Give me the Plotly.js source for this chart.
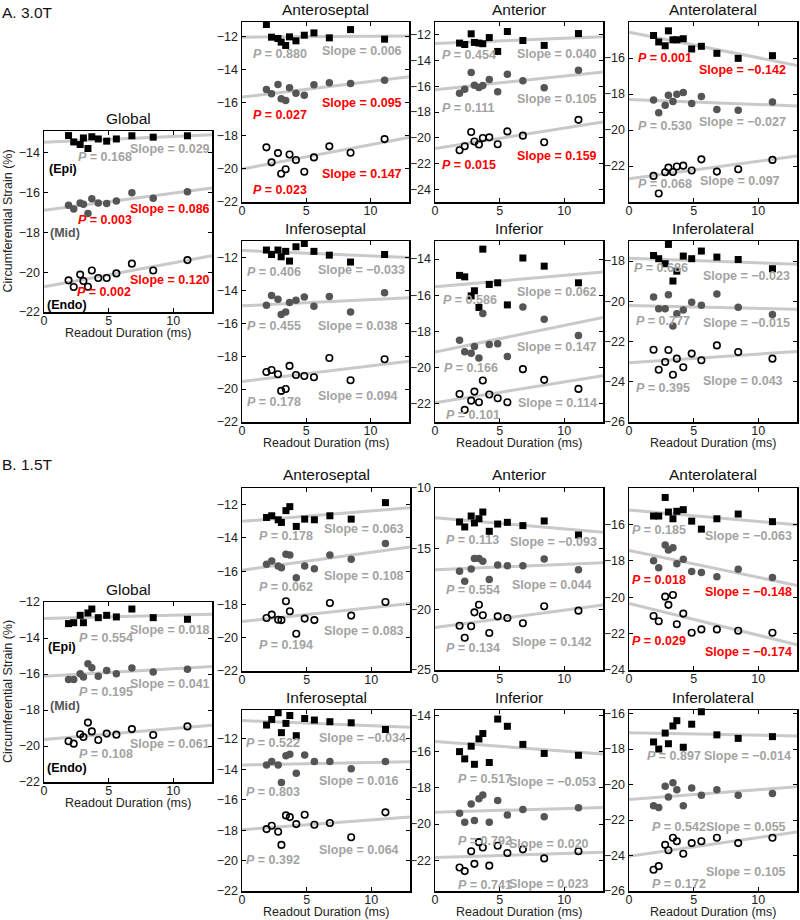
<!DOCTYPE html>
<html><head><meta charset="utf-8">
<script src="https://cdn.plot.ly/plotly-3.0.1.min.js"></script>
<style>html,body{margin:0;padding:0;background:#fff}#chart{width:800px;height:920px}</style>
</head><body><div id="chart"></div>
<script>
// ---------------- DATA ----------------
const readoutMs = [1.9, 2.3, 2.8, 3.05, 3.4, 3.7, 4.2, 4.85, 5.6, 6.8, 8.45, 11.1];
const layerNames = ['(Epi)', '(Mid)', '(Endo)'];
const panelTitles = ['Global', 'Anteroseptal', 'Anterior', 'Anterolateral', 'Inferoseptal', 'Inferior', 'Inferolateral'];
const sectionTitles = ['A. 3.0T', 'B. 1.5T'];
const xTicks = [0, 5, 10];

// A. 3.0T
const a_global_epi  = [-13.13,-13.45,-13.58,-13.25,-13.78,-13.19,-13.30,-13.41,-13.30,-13.14,-13.21,-13.14];
const a_global_mid  = [-16.63,-16.82,-16.52,-16.58,-17.05,-16.30,-16.52,-16.55,-16.42,-16.01,-16.28,-15.95];
const a_global_endo = [-20.41,-20.74,-20.12,-20.44,-20.73,-19.91,-20.29,-20.29,-20.06,-19.57,-19.91,-19.39];
const a_global_slope = [0.029, 0.086, 0.120];
const a_global_p = ['0.168', '0.003', '0.002'];

const a_antsep_epi  = [-11.25,-12.02,-12.10,-12.32,-12.52,-12.00,-12.24,-11.90,-11.76,-12.06,-11.56,-12.14];
const a_antsep_mid  = [-15.19,-15.45,-14.88,-15.75,-15.85,-15.08,-15.41,-15.53,-14.90,-14.78,-14.82,-14.62];
const a_antsep_endo = [-18.69,-19.60,-19.04,-20.29,-20.02,-19.12,-19.46,-20.17,-19.30,-18.63,-19.02,-18.19];
const a_antsep_slope = [0.006, 0.095, 0.147];
const a_antsep_p = ['0.880', '0.027', '0.023'];

const a_ant_epi  = [-12.64,-12.75,-11.92,-12.59,-12.64,-12.69,-12.21,-13.29,-11.74,-12.44,-12.82,-11.90];
const a_ant_mid  = [-16.55,-16.24,-14.93,-15.91,-16.09,-15.93,-15.47,-16.42,-15.06,-15.57,-16.11,-14.75];
const a_ant_endo = [-20.97,-20.66,-19.56,-20.30,-20.53,-20.02,-19.97,-20.51,-19.51,-19.84,-20.35,-18.61];
const a_ant_slope = [0.040, 0.105, 0.159];
const a_ant_p = ['0.454', '0.111', '0.015'];

const a_antlat_epi  = [-14.75,-15.11,-15.32,-14.49,-14.99,-14.99,-14.93,-15.50,-15.35,-15.74,-16.02,-15.87];
const a_antlat_mid  = [-18.34,-19.04,-18.62,-18.07,-18.42,-18.01,-17.92,-18.53,-18.14,-18.86,-18.90,-18.45];
const a_antlat_endo = [-22.55,-23.53,-22.35,-22.09,-22.33,-22.03,-21.98,-22.25,-21.63,-22.31,-22.18,-21.66];
const a_antlat_slope = [-0.142, -0.027, 0.097];
const a_antlat_p = ['0.001', '0.530', '0.068'];

const a_infsep_epi  = [-11.55,-11.82,-11.55,-11.96,-11.63,-12.22,-11.35,-11.15,-11.63,-11.86,-12.28,-11.82];
const a_infsep_mid  = [-14.90,-14.31,-14.54,-15.47,-15.31,-14.74,-14.60,-14.41,-14.96,-14.37,-15.31,-14.15];
const a_infsep_endo = [-18.96,-18.84,-19.10,-20.11,-19.99,-18.59,-19.14,-19.20,-19.28,-18.11,-19.46,-18.19];
const a_infsep_slope = [-0.033, 0.038, 0.094];
const a_infsep_p = ['0.406', '0.455', '0.178'];

const a_inf_epi  = [-14.90,-14.98,-16.03,-15.75,-16.67,-13.45,-15.40,-15.31,-16.53,-13.94,-14.39,-15.31];
const a_inf_mid  = [-18.48,-19.12,-19.20,-18.83,-19.47,-17.00,-18.72,-18.68,-19.38,-16.65,-17.32,-18.22];
const a_inf_endo = [-21.45,-22.33,-21.82,-21.32,-21.91,-20.71,-21.48,-21.69,-21.91,-20.08,-20.67,-21.17];
const a_inf_slope = [0.062, 0.147, 0.114];
const a_inf_p = ['0.586', '0.166', '0.101'];

const a_inflat_epi  = [-17.72,-17.88,-18.13,-17.17,-18.99,-18.50,-17.75,-17.88,-17.50,-17.80,-17.92,-18.38];
const a_inflat_mid  = [-19.79,-20.37,-20.37,-19.67,-21.23,-20.62,-20.43,-20.04,-20.20,-19.64,-20.30,-20.65];
const a_inflat_endo = [-22.41,-23.40,-23.02,-22.42,-23.65,-22.85,-23.28,-22.60,-22.93,-22.19,-22.52,-22.85];
const a_inflat_slope = [-0.023, -0.015, 0.043];
const a_inflat_p = ['0.686', '0.777', '0.395'];

// B. 1.5T
const b_global_epi  = [-13.20,-13.15,-12.74,-13.15,-12.61,-12.39,-12.87,-12.74,-12.83,-12.39,-12.87,-12.96];
const b_global_mid  = [-16.30,-16.31,-15.98,-16.17,-15.43,-15.65,-16.13,-15.80,-15.98,-15.67,-15.89,-15.74];
const b_global_endo = [-19.74,-19.87,-19.35,-19.50,-18.70,-19.19,-19.67,-19.31,-19.37,-19.06,-19.39,-18.91];
const b_global_slope = [0.018, 0.041, 0.061];
const b_global_p = ['0.554', '0.195', '0.108'];

const b_antsep_epi  = [-12.77,-12.67,-12.91,-13.07,-12.36,-12.12,-13.31,-12.87,-12.91,-12.67,-12.87,-11.88];
const b_antsep_mid  = [-15.59,-15.39,-15.69,-15.79,-14.98,-15.02,-16.40,-15.69,-15.85,-15.02,-15.29,-14.34];
const b_antsep_endo = [-18.81,-18.61,-18.92,-18.94,-17.81,-18.41,-19.76,-18.85,-18.94,-17.91,-18.67,-17.85];
const b_antsep_slope = [0.063, 0.108, 0.083];
const b_antsep_p = ['0.178', '0.062', '0.194'];

const b_ant_epi  = [-12.80,-13.21,-12.31,-12.88,-12.53,-11.98,-13.57,-12.97,-12.83,-13.10,-12.72,-13.87];
const b_ant_mid  = [-16.87,-17.69,-16.68,-15.82,-15.82,-16.04,-17.55,-16.35,-16.40,-16.40,-15.85,-16.73];
const b_ant_endo = [-21.35,-22.34,-21.40,-20.25,-19.62,-20.49,-21.95,-20.58,-20.71,-21.15,-19.75,-20.11];
const b_ant_slope = [-0.093, 0.044, 0.142];
const b_ant_p = ['0.113', '0.554', '0.134'];

const b_antlat_epi  = [-15.54,-15.54,-14.52,-15.32,-15.69,-15.28,-15.19,-15.82,-16.26,-15.69,-15.43,-15.85];
const b_antlat_mid  = [-18.00,-18.38,-17.13,-17.40,-17.28,-18.16,-17.92,-18.59,-18.64,-18.88,-18.46,-18.92];
const b_antlat_endo = [-21.03,-21.32,-19.97,-20.42,-19.88,-21.49,-20.90,-21.95,-21.77,-21.77,-21.84,-21.95];
const b_antlat_slope = [-0.063, -0.148, -0.174];
const b_antlat_p = ['0.185', '0.018', '0.029'];

const b_infsep_epi  = [-11.09,-10.72,-10.28,-11.59,-10.98,-10.46,-11.79,-10.66,-10.76,-10.87,-10.94,-11.38];
const b_infsep_mid  = [-13.71,-13.49,-13.71,-14.87,-13.10,-13.01,-14.26,-13.06,-13.49,-13.49,-13.97,-13.49];
const b_infsep_endo = [-17.93,-17.71,-18.10,-18.97,-17.03,-17.14,-17.60,-16.99,-17.64,-17.53,-18.47,-16.83];
const b_infsep_slope = [-0.034, 0.016, 0.064];
const b_infsep_p = ['0.522', '0.803', '0.392'];

const b_inf_epi  = [-16.0,-16.4,-15.7,-16.7,-15.3,-15.0,-16.6,-14.2,-14.6,-15.6,-16.1,-16.2];
const b_inf_mid  = [-19.4,-19.9,-18.9,-19.8,-18.6,-18.4,-19.9,-18.7,-19.5,-19.2,-19.6,-19.1];
const b_inf_endo = [-22.4,-22.6,-21.5,-22.2,-21.0,-21.3,-22.3,-21.2,-21.6,-21.4,-21.9,-21.5];
const b_inf_slope = [-0.053, 0.020, 0.023];
const b_inf_p = ['0.517', '0.792', '0.741'];

const b_inflat_epi  = [-17.6,-18.0,-17.1,-17.7,-16.7,-16.4,-17.9,-16.6,-15.9,-17.2,-17.4,-17.3];
const b_inflat_mid  = [-21.2,-21.3,-20.1,-20.7,-19.9,-20.3,-21.2,-20.2,-20.6,-20.3,-20.6,-20.5];
const b_inflat_endo = [-24.8,-24.6,-23.4,-23.7,-23.0,-23.2,-23.9,-23.3,-23.2,-23.0,-23.3,-23.0];
const b_inflat_slope = [-0.014, 0.055, 0.105];
const b_inflat_p = ['0.897', '0.542', '0.172'];

// ---------------- LAYOUT / PANELS ----------------
const W = 800, H = 920;
const FONT = 'Liberation Sans, Arial, sans-serif';
const px = v => v / W, py = v => 1 - v / H;

const panels = [
  {t:0, box:[44,212,131,312], yr:[-22,-12.9], yt:[-22,-20,-18,-16,-14], d:[a_global_epi,a_global_mid,a_global_endo], s:a_global_slope, p:a_global_p,
   pPos:[[2.57,-14.2],[2.57,-17.39],[2.47,-20.98]], sPos:[[12.9,-13.82],[12.9,-16.8],[12.9,-20.38]], layers:[[0.3,-14.82],[0.42,-18.03],[0.18,-21.64]]},
  {t:1, box:[242,409,22,202], yr:[-22,-11.1], yt:[-22,-20,-18,-16,-14,-12], d:[a_antsep_epi,a_antsep_mid,a_antsep_endo], s:a_antsep_slope, p:a_antsep_p,
   pPos:[[0.78,-13.03],[0.78,-16.76],[0.78,-21.27]], sPos:[[12.5,-12.87],[12.5,-15.99],[12.5,-20.29]]},
  {t:2, box:[435,603,22,202], yr:[-25,-11], yt:[-24,-22,-20,-18,-16,-14,-12], d:[a_ant_epi,a_ant_mid,a_ant_endo], s:a_ant_slope, p:a_ant_p,
   pPos:[[0.44,-13.54],[0.44,-17.66],[0.44,-22.13]], sPos:[[12.6,-13.47],[12.6,-16.99],[12.6,-21.43]]},
  {t:3, box:[629,797,22,202], yr:[-24,-14], yt:[-22,-20,-18,-16], d:[a_antlat_epi,a_antlat_mid,a_antlat_endo], s:a_antlat_slope, p:a_antlat_p,
   pPos:[[0.59,-16.0],[0.59,-19.78],[0.59,-23.01]], sPos:[[12.26,-16.68],[12.26,-19.56],[11.74,-22.86]]},
  {t:4, box:[242,409,241,422], yr:[-22,-11], yt:[-22,-20,-18,-16,-14,-12], d:[a_infsep_epi,a_infsep_mid,a_infsep_endo], s:a_infsep_slope, p:a_infsep_p,
   pPos:[[0.31,-12.91],[0.31,-16.18],[0.31,-20.78]], sPos:[[12.79,-12.77],[12.2,-16.18],[12.2,-20.44]], xlab:true},
  {t:5, box:[435,603,241,422], yr:[-23,-13], yt:[-22,-20,-18,-16,-14], d:[a_inf_epi,a_inf_mid,a_inf_endo], s:a_inf_slope, p:a_inf_p,
   pPos:[[0.51,-16.25],[0.64,-20.03],[0.77,-22.61]], sPos:[[12.6,-15.84],[12.6,-18.87],[12.6,-21.96]], xlab:true},
  {t:6, box:[629,797,241,422], yr:[-26,-17], yt:[-26,-24,-22,-20,-18], d:[a_inflat_epi,a_inflat_mid,a_inflat_endo], s:a_inflat_slope, p:a_inflat_p,
   pPos:[[0.31,-18.35],[0.49,-20.96],[0.49,-24.31]], sPos:[[12.54,-18.75],[12.54,-21.08],[11.97,-23.96]], xlab:true},

  {t:0, box:[44,212,602,782], yr:[-22,-12], yt:[-22,-20,-18,-16,-14,-12], d:[b_global_epi,b_global_mid,b_global_endo], s:b_global_slope, p:b_global_p,
   pPos:[[2.65,-13.98],[2.65,-17.02],[2.65,-20.43]], sPos:[[12.9,-13.54],[12.9,-16.54],[12.9,-19.91]], layers:[[0.26,-14.5],[0.39,-17.76],[0.15,-21.22]]},
  {t:1, box:[242,410,488,671], yr:[-22,-11], yt:[-22,-20,-18,-16,-14,-12], d:[b_antsep_epi,b_antsep_mid,b_antsep_endo], s:b_antsep_slope, p:b_antsep_p,
   pPos:[[1.21,-13.88],[1.21,-16.94],[1.21,-20.43]], sPos:[[12.58,-13.47],[12.58,-16.29],[12.58,-19.62]]},
  {t:2, box:[435,603,488,670], yr:[-25,-10], yt:[-25,-20,-15,-10], d:[b_ant_epi,b_ant_mid,b_ant_endo], s:b_ant_slope, p:b_ant_p,
   pPos:[[0.77,-14.31],[0.77,-18.41],[0.77,-23.19]], sPos:[[12.6,-14.48],[12.2,-17.97],[12.2,-22.69]]},
  {t:3, box:[629,797,488,670], yr:[-24,-14], yt:[-24,-22,-20,-18,-16], d:[b_antlat_epi,b_antlat_mid,b_antlat_endo], s:b_antlat_slope, p:b_antlat_p,
   pPos:[[0.18,-16.30],[0.18,-19.03],[0.18,-22.43]], sPos:[[12.67,-16.61],[12.67,-19.70],[12.67,-22.99]]},
  {t:4, box:[242,410,710,891], yr:[-22,-10.1], yt:[-22,-20,-18,-16,-14,-12], d:[b_infsep_epi,b_infsep_mid,b_infsep_endo], s:b_infsep_slope, p:b_infsep_p,
   pPos:[[0.26,-12.25],[0.26,-15.46],[0.26,-19.98]], sPos:[[12.79,-11.97],[12.2,-14.80],[12.2,-19.32]], xlab:true},
  {t:5, box:[435,603,710,891], yr:[-23.7,-13.7], yt:[-22,-20,-18,-16,-14], d:[b_inf_epi,b_inf_mid,b_inf_endo], s:b_inf_slope, p:b_inf_p,
   pPos:[[1.7,-17.53],[1.7,-20.91],[1.7,-23.35]], sPos:[[12.5,-17.69],[12.0,-21.13],[12.0,-23.3]], xlab:true},
  {t:6, box:[629,797,710,891], yr:[-26,-15.8], yt:[-26,-24,-22,-20,-18,-16], d:[b_inflat_epi,b_inflat_mid,b_inflat_endo], s:b_inflat_slope, p:b_inflat_p,
   pPos:[[1.35,-18.42],[1.7,-22.38],[1.7,-25.6]], sPos:[[12.6,-18.42],[12.2,-22.42],[12.2,-24.95]], xlab:true}
];

const markerStyles = [
  {symbol:'square', size:7, color:'#000000'},
  {symbol:'circle', size:7.5, color:'#555555'},
  {symbol:'circle-open', size:6.5, color:'#000000', line:{width:1.6, color:'#000000'}}
];
const labelColors = ['#000000', '#555555', '#000000'];
const GREY = '#a3a3a3', RED = '#ff0000';

const fmtSlope = v => (v < 0 ? '\u2212' : '') + Math.abs(v).toFixed(3);
const mean = a => a.reduce((s, v) => s + v, 0) / a.length;

const traces = [];
const annotations = [];
const layout = {
  width: W, height: H, margin: {l:0, r:0, t:0, b:0},
  paper_bgcolor: '#ffffff', plot_bgcolor: '#ffffff',
  showlegend: false, font: {family: FONT, size: 12.5, color: '#222222'}
};

panels.forEach((pn, i) => {
  const n = i + 1;
  const xa = 'x' + n, ya = 'y' + n;
  const [l, r, t, b] = pn.box;
  const axCommon = {
    showline: true, linecolor: '#000000', linewidth: 1.5, mirror: 'ticks',
    ticks: 'inside', ticklen: 4, tickwidth: 1, tickcolor: '#000000',
    showgrid: false, zeroline: false, fixedrange: true,
    tickfont: {family: FONT, size: 12.5, color: '#222222'}
  };
  layout['xaxis' + n] = Object.assign({}, axCommon, {
    domain: [px(l), px(r)], anchor: ya, range: [0, 13], tickmode: 'array', tickvals: xTicks, ticklabelstandoff: -4
  });
  layout['yaxis' + n] = Object.assign({}, axCommon, {
    domain: [py(b), py(t)], anchor: xa, range: pn.yr, tickmode: 'array', tickvals: pn.yt
  });

  const mx = mean(readoutMs);
  pn.d.forEach((ys, k) => {
    const m = pn.s[k];
    const b0 = mean(ys) - m * mx;
    traces.push({x: [0, 13], y: [b0, b0 + 13 * m], xaxis: xa, yaxis: ya, mode: 'lines',
      line: {color: '#c9c9c9', width: 3}, hoverinfo: 'skip'});
  });
  pn.d.forEach((ys, k) => {
    traces.push({x: readoutMs, y: ys, xaxis: xa, yaxis: ya, mode: 'markers',
      marker: markerStyles[k], cliponaxis: false, hoverinfo: 'skip'});
  });

  annotations.push({xref: 'paper', yref: 'paper', x: px((l + r) / 2), y: py(t - 13),
    xanchor: 'center', yanchor: 'middle', showarrow: false, text: panelTitles[pn.t],
    font: {family: FONT, size: 15.5, color: '#111111'}});

  pn.p.forEach((pv, k) => {
    const col = parseFloat(pv) < 0.05 ? RED : GREY;
    annotations.push({xref: xa, yref: ya, x: pn.pPos[k][0], y: pn.pPos[k][1], xanchor: 'left', yanchor: 'middle',
      showarrow: false, text: '<b><i>P</i> = ' + pv + '</b>', font: {family: FONT, size: 12.5, color: col}, borderpad: 0});
    annotations.push({xref: xa, yref: ya, x: pn.sPos[k][0], y: pn.sPos[k][1], xanchor: 'right', yanchor: 'middle',
      showarrow: false, text: '<b>Slope = ' + fmtSlope(pn.s[k]) + '</b>', font: {family: FONT, size: 12.5, color: col}, borderpad: 0});
  });

  if (pn.layers) {
    pn.layers.forEach((pos, k) => {
      annotations.push({xref: xa, yref: ya, x: pos[0], y: pos[1], xanchor: 'left', yanchor: 'middle',
        showarrow: false, text: '<b>' + layerNames[k] + '</b>', font: {family: FONT, size: 12.5, color: labelColors[k]}, borderpad: 0});
    });
    annotations.push({xref: 'paper', yref: 'paper', x: px(8), y: py((t + b) / 2), xanchor: 'center', yanchor: 'middle',
      textangle: -90, showarrow: false, text: 'Circumferential Strain (%)', font: {family: FONT, size: 12.5, color: '#222222'}});
  }
  if (pn.layers || pn.xlab) {
    annotations.push({xref: 'paper', yref: 'paper', x: px((l + r) / 2), y: py(Math.min(b + 20.5, 912.5)), xanchor: 'center', yanchor: 'middle',
      showarrow: false, text: 'Readout Duration (ms)', font: {family: FONT, size: 12.5, color: '#222222'}, borderpad: 0});
  }
});

annotations.push({xref: 'paper', yref: 'paper', x: 0, y: py(12), xanchor: 'left', yanchor: 'middle', showarrow: false,
  text: sectionTitles[0], font: {family: FONT, size: 15.5, color: '#111111'}});
annotations.push({xref: 'paper', yref: 'paper', x: 0, y: py(464), xanchor: 'left', yanchor: 'middle', showarrow: false,
  text: sectionTitles[1], font: {family: FONT, size: 15.5, color: '#111111'}});

layout.annotations = annotations;
Plotly.newPlot('chart', traces, layout, {staticPlot: true, displayModeBar: false});
</script>
</body></html>
